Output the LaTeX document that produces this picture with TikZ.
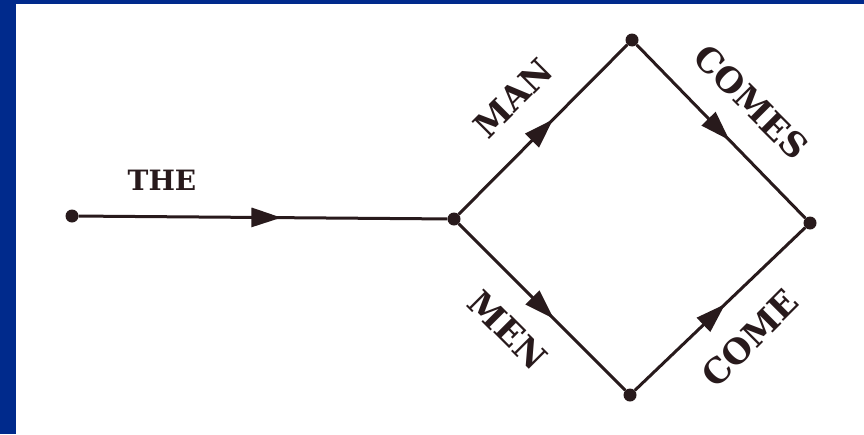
\documentclass[tikz,border=0pt]{standalone}
\usepackage{fontspec}
\setmainfont{DejaVu Serif}
\usetikzlibrary{arrows.meta,decorations.markings}
\definecolor{frameblue}{RGB}{0,42,140}
\definecolor{ink}{RGB}{40,26,28}
\tikzset{
  dot/.style={circle,fill=ink,draw=none,inner sep=0pt,minimum size=13pt},
  edge/.style={draw=ink,line width=3pt,postaction={decorate},
    decoration={markings,mark=at position #1 with {\arrow{Triangle[length=30pt,width=19pt]}}}},
  edge/.default=0.54,
  lbl/.style={text=ink,font=\bfseries\fontsize{34}{34}\selectfont,inner sep=0pt},
}
\begin{document}
\begin{tikzpicture}[x=1pt,y=-1pt,ink]
\useasboundingbox (0,0) rectangle (864,434);
\fill[frameblue] (0,0) rectangle (864,434);
\fill[white] (16,4) rectangle (864,434);
\node[dot] (s) at (72,216) {};
\node[dot] (j) at (454,219) {};
\node[dot] (t) at (632,40) {};
\node[dot] (r) at (810,223) {};
\node[dot] (b) at (630,395) {};
\draw[edge=0.55] (s) -- (j);
\draw[edge=0.56] (j) -- (t);
\draw[edge=0.55] (t) -- (r);
\draw[edge=0.57] (j) -- (b);
\draw[edge=0.53] (b) -- (r);
\node[lbl,font=\bfseries\fontsize{28}{28}\selectfont] (lthe) at (162,180) {THE};
\node[lbl,rotate=45] (lman) at (513,98) {MAN};
\node[lbl,rotate=-45] (lcomes) at (751,102) {COMES};
\node[lbl,rotate=-45] (lmen) at (508,330) {MEN};
\node[lbl,rotate=45] (lcome) at (750,338) {COME};
\end{tikzpicture}
\end{document}
